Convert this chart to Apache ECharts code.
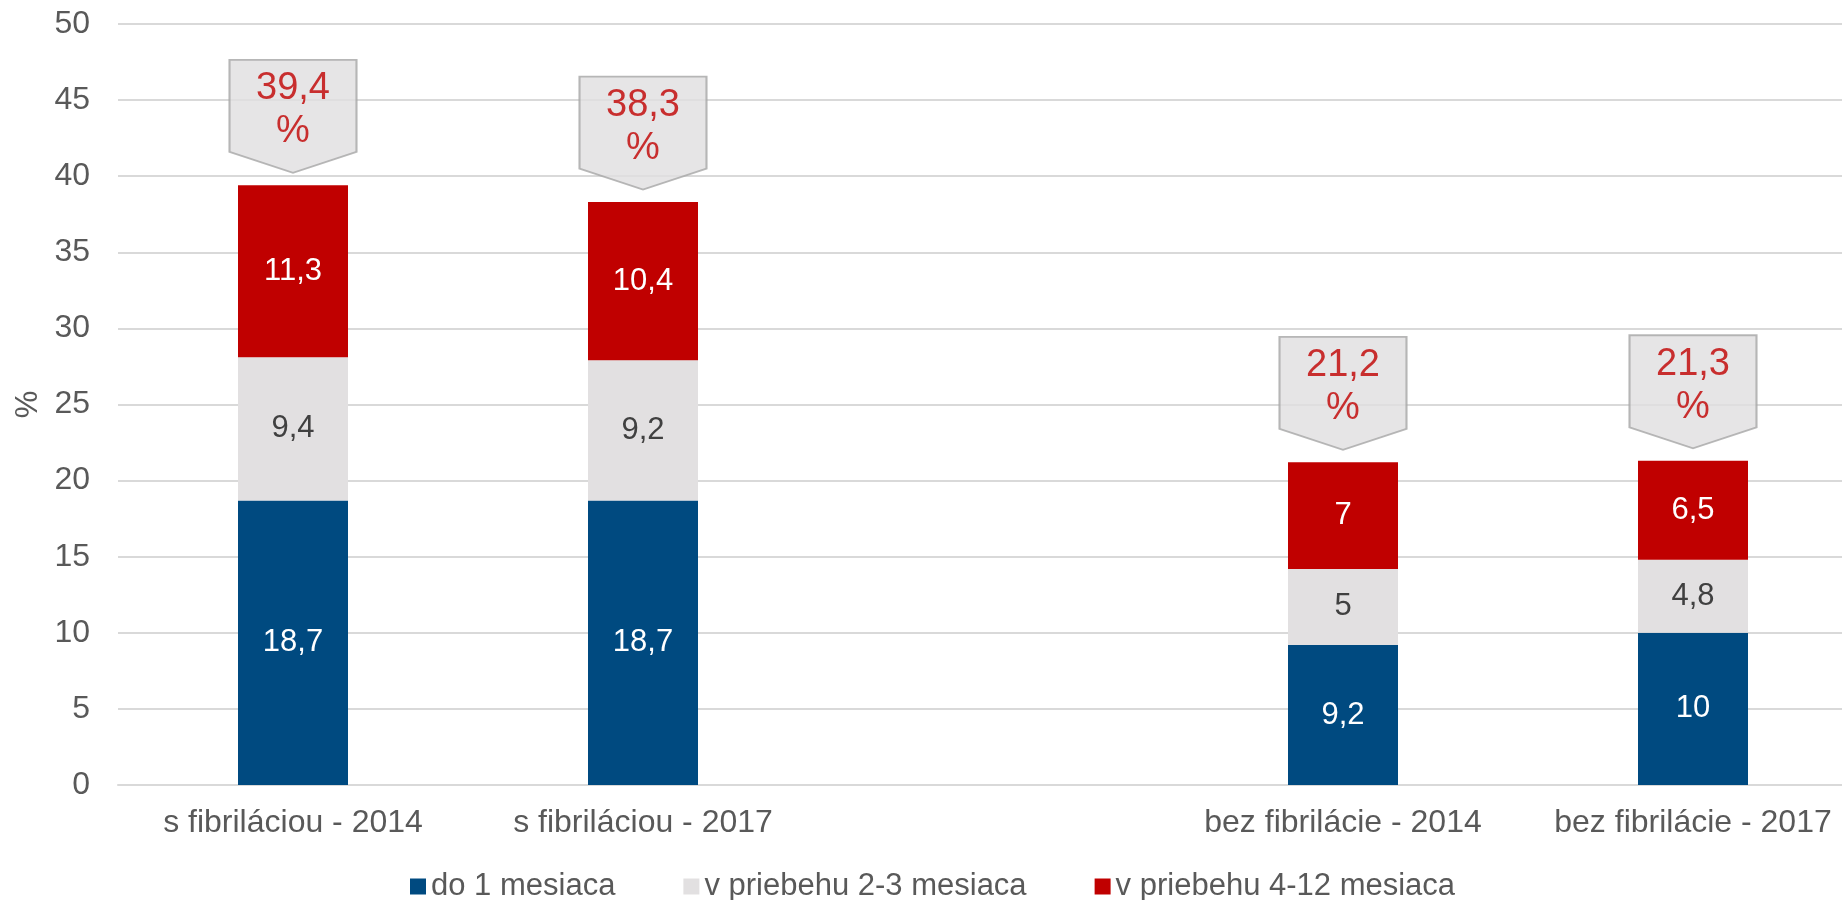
<!DOCTYPE html>
<html>
<head>
<meta charset="utf-8">
<script src="https://cdn.jsdelivr.net/npm/echarts@6/dist/echarts.min.js"></script>
<style>
  html, body { margin: 0; padding: 0; background: #fff; }
  #chart { width: 1842px; height: 900px; }
</style>
</head>
<body>
<div id="chart"></div>
<script>
// data
const categories = ['s fibriláciou - 2014', 's fibriláciou - 2017', '', 'bez fibrilácie - 2014', 'bez fibrilácie - 2017']
const upTo1Month = [18.7, 18.7, null, 9.2, 10]
const within2to3 = [9.4, 9.2, null, 5, 4.8]
const within4to12 = [11.3, 10.4, null, 7, 6.5]
const seriesNames = ['do 1 mesiaca', 'v priebehu 2-3 mesiaca', 'v priebehu 4-12 mesiaca']

const totals = categories.map((c, i) =>
  upTo1Month[i] == null ? null : Math.round((upTo1Month[i] + within2to3[i] + within4to12[i]) * 10) / 10)

const fmt = v => String(v).replace('.', ',')
const font = 'Arial, "Liberation Sans", sans-serif'

const chart = echarts.init(document.getElementById('chart'))

const barLabel = color => ({
  show: true,
  position: 'inside',
  color: color,
  fontSize: 31,
  fontFamily: font,
  formatter: p => fmt(p.value)
})

chart.setOption({
  animation: false,
  textStyle: { fontFamily: font },
  grid: { left: 118, top: 24, width: 1750, height: 761, containLabel: false, outerBoundsMode: 'none' },
  legend: {
    data: seriesNames,
    left: 405,
    top: 866,
    icon: 'rect',
    itemWidth: 16,
    itemHeight: 16,
    itemGap: 68,
    textStyle: { fontSize: 31, color: '#595959', fontFamily: font }
  },
  xAxis: {
    type: 'category',
    data: categories,
    axisTick: { show: false },
    axisLine: { lineStyle: { color: '#d9d9d9', width: 2 } },
    axisLabel: { fontSize: 32, color: '#595959', margin: 22, interval: 0 }
  },
  yAxis: {
    type: 'value',
    min: 0,
    max: 50,
    interval: 5,
    name: '%',
    nameLocation: 'middle',
    nameGap: 74,
    nameTextStyle: { fontSize: 31, color: '#595959' },
    axisLine: { show: false },
    axisTick: { show: false },
    axisLabel: { fontSize: 32, color: '#595959', margin: 28 },
    splitLine: { lineStyle: { color: '#d9d9d9', width: 2 } }
  },
  series: [
    {
      name: seriesNames[0], type: 'bar', stack: 'total', barWidth: 110,
      data: upTo1Month, itemStyle: { color: '#004a80' }, label: barLabel('#ffffff')
    },
    {
      name: seriesNames[1], type: 'bar', stack: 'total', barWidth: 110,
      data: within2to3, itemStyle: { color: '#e2e0e1' }, label: barLabel('#404040')
    },
    {
      name: seriesNames[2], type: 'bar', stack: 'total', barWidth: 110,
      data: within4to12, itemStyle: { color: '#c00000' }, label: barLabel('#ffffff')
    },
    {
      name: 'spolu', type: 'scatter',
      data: totals,
      symbol: 'path://M0,0 L127,0 L127,92 L63.5,113 L0,92 Z',
      symbolSize: [127, 113],
      symbolOffset: [0, -69],
      itemStyle: { color: '#e0dfe0', borderColor: '#a6a6a6', borderWidth: 2 },
      label: {
        show: true,
        position: 'inside',
        offset: [0, -6],
        color: '#c00000',
        fontSize: 38,
        lineHeight: 43,
        fontFamily: font,
        formatter: p => fmt(p.value) + '\n%'
      },
      z: 5
    }
  ]
})
</script>
</body>
</html>
